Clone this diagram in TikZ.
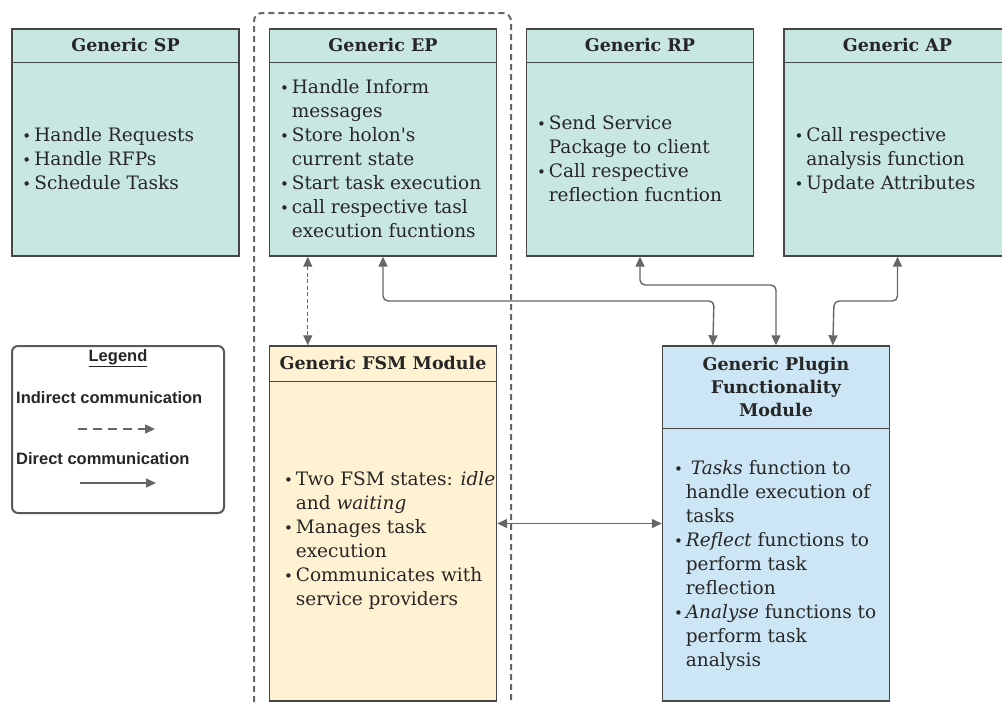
\documentclass[tikz,border=0pt]{standalone}
\usepackage{fontspec}
\setmainfont{DejaVu Serif}[Ligatures=TeXOff]
\newfontfamily\legendfont{Liberation Sans}
\usetikzlibrary{arrows.meta}

\definecolor{tealfill}{RGB}{201,231,226}
\definecolor{creamfill}{RGB}{255,242,210}
\definecolor{bluefill}{RGB}{205,230,245}
\definecolor{edge}{RGB}{70,70,70}
\definecolor{wire}{RGB}{102,102,102}
\definecolor{ink}{RGB}{38,38,38}

\newcommand\blt{{\fontsize{15}{15}\selectfont\textbullet}}

\tikzset{
  box/.style={draw=edge, line width=1.4pt, minimum width=227pt, inner sep=0pt},
  sep/.style={draw=edge, line width=1.4pt},
  title/.style={font=\fontsize{17.5}{23}\selectfont\bfseries, text=ink, align=center, inner sep=0pt},
  body/.style={anchor=west, inner sep=0pt, font=\fontsize{18.5}{24}\selectfont, text=ink},
  link/.style={draw=wire, line width=1.4pt, rounded corners=5pt, -{Triangle[length=10pt,width=9pt]}},
  both/.style={link, {Triangle[length=10pt,width=9pt]}-{Triangle[length=10pt,width=9pt]}},
  indirect/.style={draw=wire, line width=1.2pt, dash pattern=on 4pt off 2.5pt,
    {Triangle[length=10pt,width=9pt]}-{Triangle[length=10pt,width=9pt]}},
  group/.style={draw=wire, line width=2pt, dash pattern=on 6pt off 4pt, rounded corners=8pt},
  legendbox/.style={draw=edge!90, line width=2pt, rounded corners=6pt, inner sep=0pt},
  legtext/.style={font=\legendfont\fontsize{16.5}{20}\selectfont\bfseries, text=ink, inner sep=0pt},
}

\begin{document}
\begin{tikzpicture}[x=1pt,y=-1pt]
\useasboundingbox (0,0) rectangle (1002,704);

% dashed grouping frame around the execution plugin and the FSM module
\draw[group] (511,720) -- (511,13) -- (254,13) -- (254,720);

% plugin boxes
\node[box, fill=tealfill, minimum height=227pt] (sp) at (125.5,142.5) {};
\node[box, fill=tealfill, minimum height=227pt] (ep) at (383,142.5) {};
\node[box, fill=tealfill, minimum height=227pt] (rp) at (640,142.5) {};
\node[box, fill=tealfill, minimum height=227pt] (ap) at (897.5,142.5) {};
\node[box, fill=creamfill, minimum height=355pt] (fsm) at (383,523.5) {};
\node[box, fill=bluefill, minimum height=355pt] (plug) at (776,523.5) {};

% header separators
\foreach \b in {sp,ep,rp,ap}
  \draw[sep] ([yshift=-34pt]\b.north west) -- ([yshift=-34pt]\b.north east);
\draw[sep] ([yshift=-36pt]fsm.north west) -- ([yshift=-36pt]fsm.north east);
\draw[sep] ([yshift=-83pt]plug.north west) -- ([yshift=-83pt]plug.north east);

% titles
\node[title] (spT) at ([yshift=-17pt]sp.north) {Generic SP};
\node[title] (epT) at ([yshift=-17pt]ep.north) {Generic EP};
\node[title] (rpT) at ([yshift=-17pt]rp.north) {Generic RP};
\node[title] (apT) at ([yshift=-17pt]ap.north) {Generic AP};
\node[title] (fsmT) at ([yshift=-18pt]fsm.north) {Generic FSM Module};
\node[title] (plugT) at ([yshift=-42pt]plug.north) {Generic Plugin\\Functionality\\Module};

% bullet lists
\node[body] (spB) at ([xshift=11pt,yshift=-132pt]sp.north west) {%
\begin{tabular}{@{}c@{\hspace{3pt}}l@{}}
\blt & Handle Requests\\
\blt & Handle RFPs\\
\blt & Schedule Tasks
\end{tabular}};

\node[body] (epB) at ([xshift=11pt,yshift=-132pt]ep.north west) {%
\begin{tabular}{@{}c@{\hspace{3pt}}l@{}}
\blt & Handle Inform\\
     & messages\\
\blt & Store holon's\\
     & current state\\
\blt & Start task execution\\
\blt & call respective tasl\\
     & execution fucntions
\end{tabular}};

\node[body] (rpB) at ([xshift=11pt,yshift=-132pt]rp.north west) {%
\begin{tabular}{@{}c@{\hspace{3pt}}l@{}}
\blt & Send Service\\
     & Package to client\\
\blt & Call respective\\
     & reflection fucntion
\end{tabular}};

\node[body] (apB) at ([xshift=11pt,yshift=-132pt]ap.north west) {%
\begin{tabular}{@{}c@{\hspace{3pt}}l@{}}
\blt & Call respective\\
     & analysis function\\
\blt & Update Attributes
\end{tabular}};

\node[body] (fsmB) at ([xshift=15pt,yshift=-195pt]fsm.north west) {%
\begin{tabular}{@{}c@{\hspace{3pt}}l@{}}
\blt & Two FSM states: \textit{idle}\\
     & and \textit{waiting}\\
\blt & Manages task\\
     & execution\\
\blt & Communicates with\\
     & service providers
\end{tabular}};

\node[body] (plugB) at ([xshift=12pt,yshift=-220pt]plug.north west) {%
\begin{tabular}{@{}c@{\hspace{3pt}}l@{}}
\blt & \hspace{5pt}\textit{Tasks} function to\\
     & handle execution of\\
     & tasks\\
\blt & \textit{Reflect} functions to\\
     & perform task\\
     & reflection\\
\blt & \textit{Analyse} functions to\\
     & perform task\\
     & analysis
\end{tabular}};

% connectors
\draw[indirect] ([xshift=39pt]ep.south west) -- ([xshift=39pt]fsm.north west);
\draw[both] (ep.south) |- (714,301) -- ([xshift=51pt]plug.north west);
\draw[both] (rp.south) |- (776,285) -- (plug.north);
\draw[both] (ap.south) |- (834,301) -- ([xshift=171pt]plug.north west);
\draw[both] (fsm.east) -- (plug.west);

% legend
\node[legendbox, minimum width=212pt, minimum height=167pt] (leg) at (118,429.5) {};
\node[legtext] (legT) at (118,358) {\underline{Legend}};
\node[legtext, anchor=west] (ind) at (16,398) {Indirect communication};
\node[legtext, anchor=west] (dir) at (16,459) {Direct communication};
\coordinate (ia) at (78,429);
\coordinate (ib) at (155,429);
\coordinate (da) at (80,483);
\coordinate (db) at (156,483);
\draw[draw=wire, line width=1.4pt, dash pattern=on 9pt off 6pt, -{Triangle[length=10pt,width=9pt]}] (ia) -- (ib);
\draw[link] (da) -- (db);
\end{tikzpicture}
\end{document}
